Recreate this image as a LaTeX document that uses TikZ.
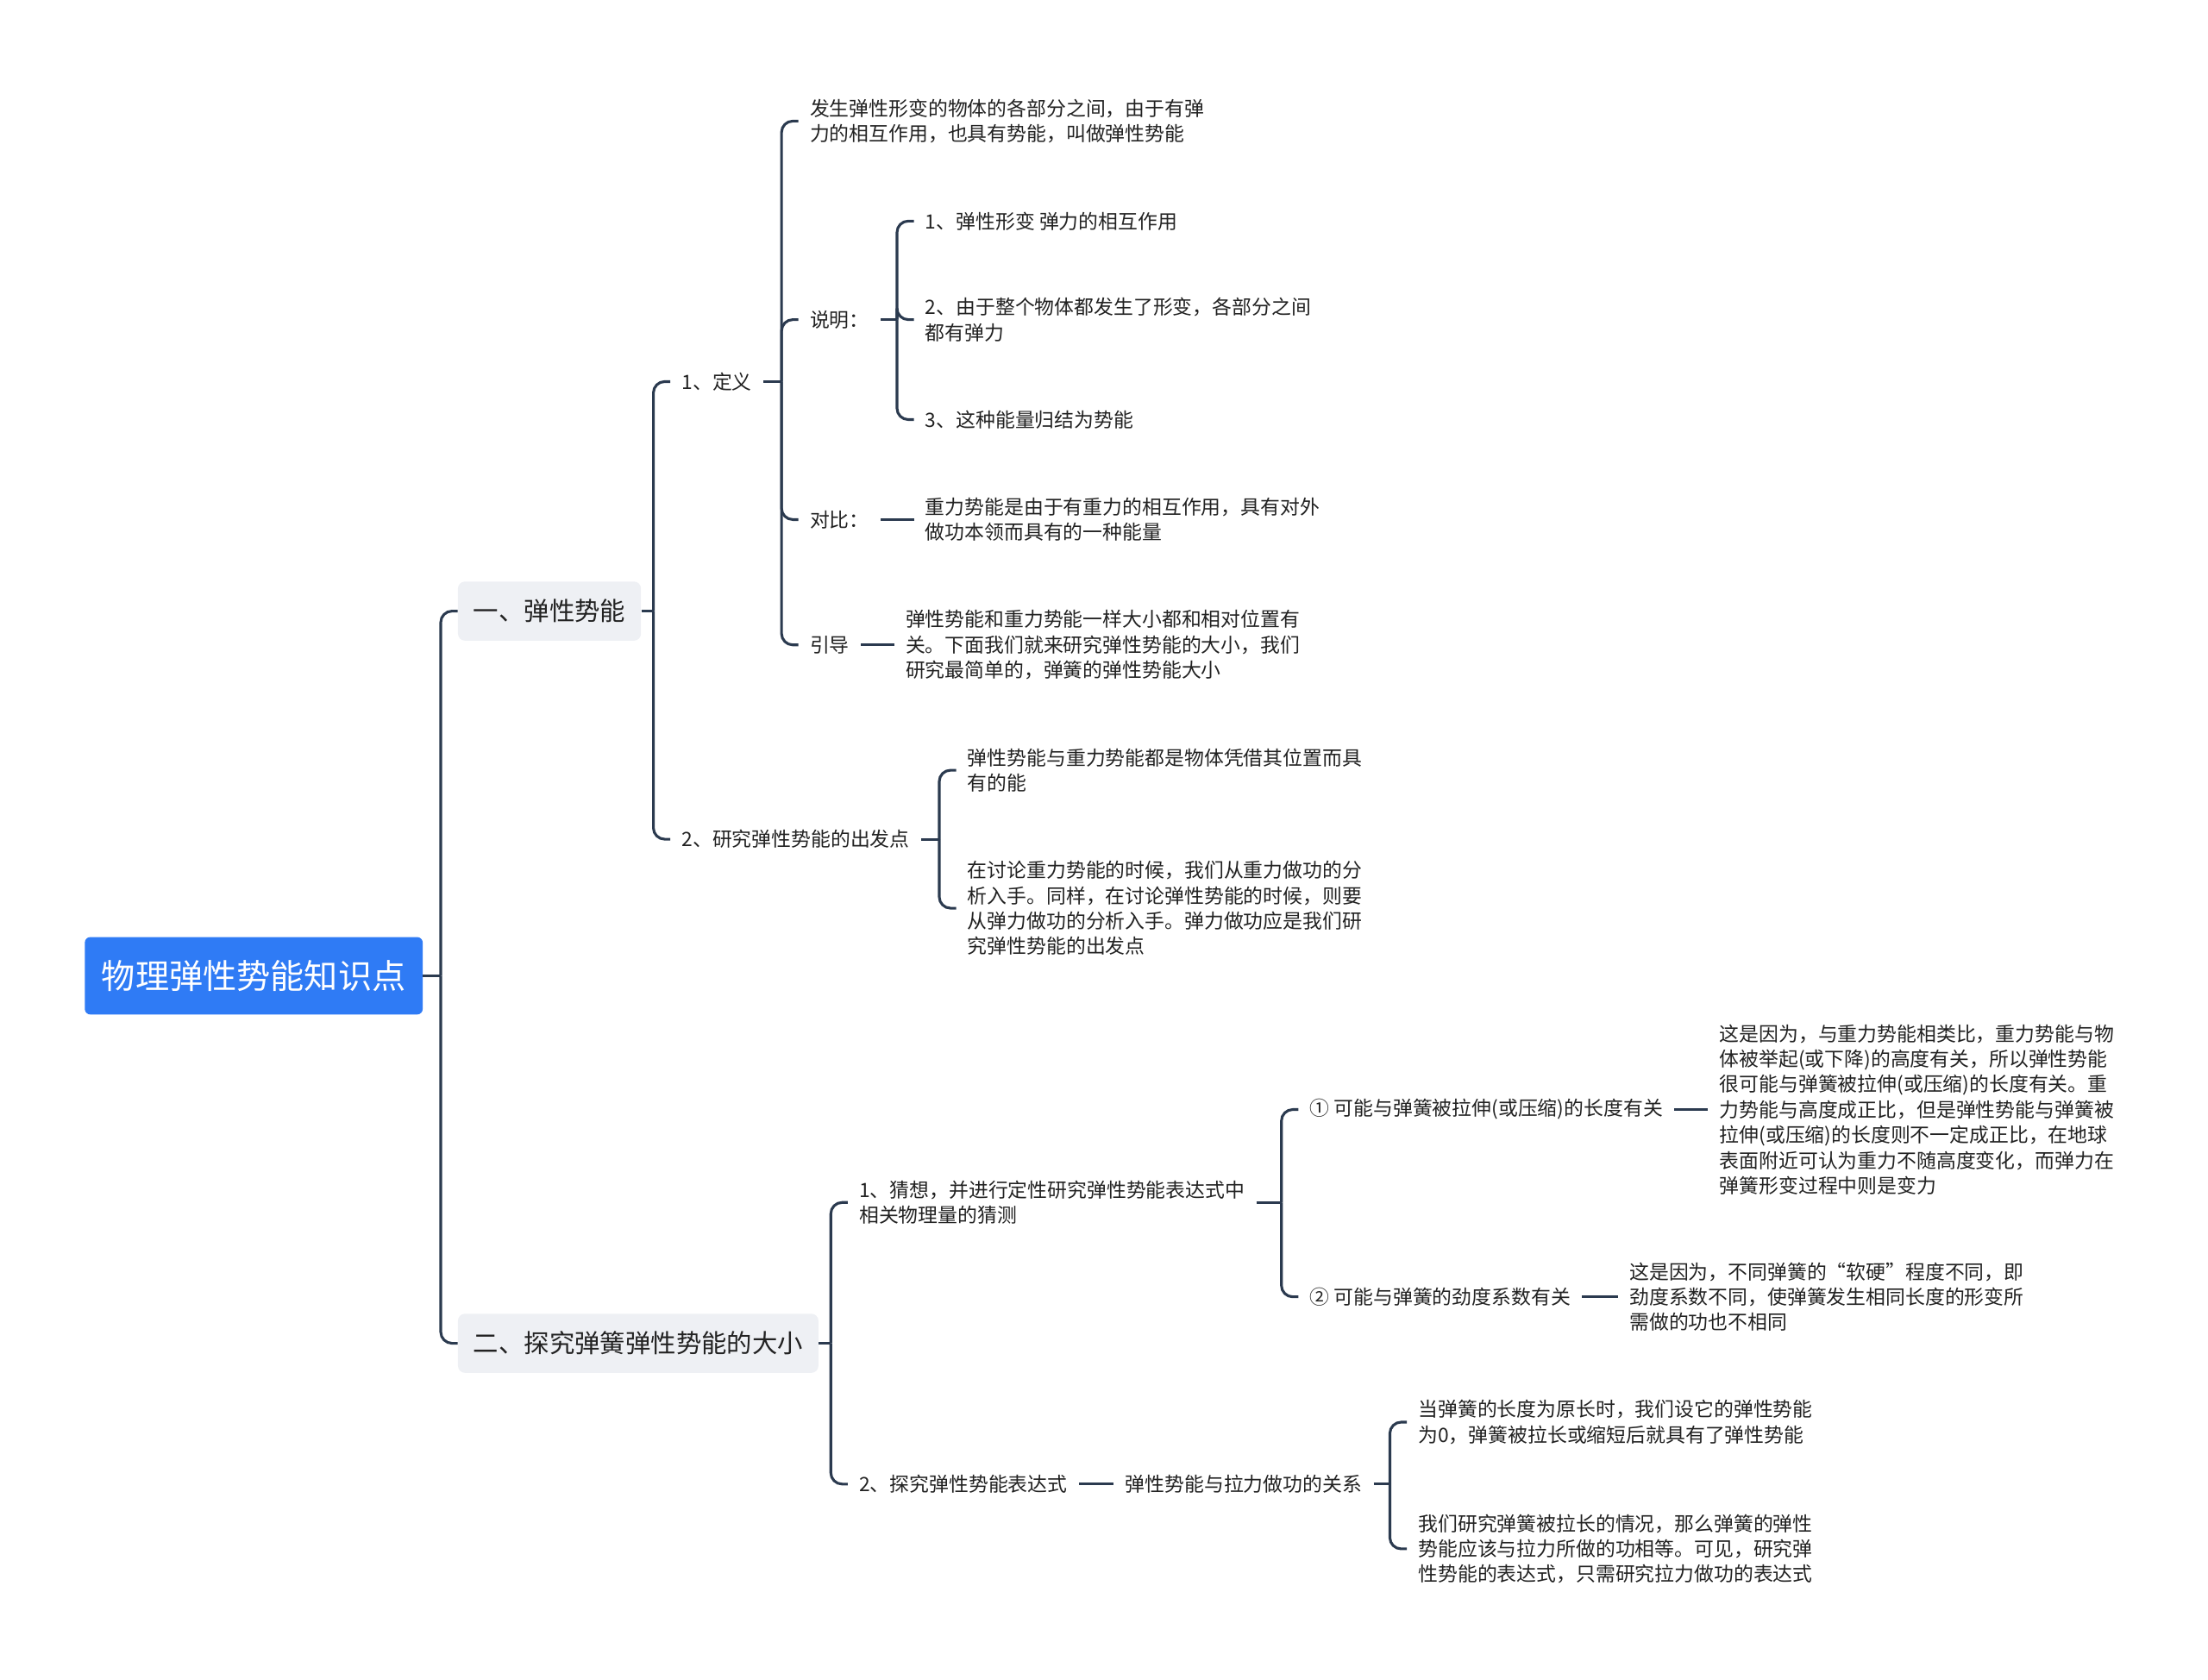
\documentclass[tikz,border=0pt]{standalone}
\usepackage{fontspec}
\setmainfont{Noto Sans CJK SC}
\definecolor{RootBlue}{HTML}{2F7BF5}
\definecolor{TopicGray}{HTML}{EEF0F4}
\definecolor{LinkNavy}{HTML}{2B3A4F}
\definecolor{TextDark}{HTML}{222222}
\usetikzlibrary{calc}
\tikzset{
  rootbox/.style={fill=RootBlue, rounded corners=4pt, text=white, anchor=west, minimum width=240pt, minimum height=55pt, inner xsep=12pt, font=\fontsize{24}{28}\selectfont},
  topicbox/.style={fill=TopicGray, rounded corners=5pt, text=TextDark, anchor=west, minimum height=42pt, inner xsep=11pt, font=\fontsize{18}{22}\selectfont},
  leaf/.style={anchor=west, align=left, inner xsep=8pt, inner ysep=2pt, text=TextDark, font=\fontsize{14}{18}\selectfont},
  link/.style={draw=LinkNavy, line width=1.9pt},
  branch/.style={link, rounded corners=8pt}
}

\begin{document}
\begin{tikzpicture}[x=1pt, y=-1pt]
\useasboundingbox (0,0) rectangle (1568,1193);

% root and main topics
\node[rootbox] (root) at (60,693) {物理弹性势能知识点};
\node[topicbox] (elastic) at (325,434) {一、弹性势能};
\node[topicbox] (spring) at (325,954) {二、探究弹簧弹性势能的大小};

% first topic
\node[leaf] (def) at (476,271) {1、定义};
\node[leaf] (start) at (476,596) {2、研究弹性势能的出发点};
\node[leaf] (defTxt) at (567,86) {发生弹性形变的物体的各部分之间，由于有弹\\力的相互作用，也具有势能，叫做弹性势能};
\node[leaf] (note) at (567,227) {说明：};
\node[leaf] (cmp) at (567,369) {对比：};
\node[leaf] (guide) at (567,458) {引导};
\node[leaf] (noteA) at (649,157) {1、弹性形变 弹力的相互作用};
\node[leaf] (noteB) at (649,227) {2、由于整个物体都发生了形变，各部分之间\\都有弹力};
\node[leaf] (noteC) at (649,298) {3、这种能量归结为势能};
\node[leaf] (cmpTxt) at (649,369) {重力势能是由于有重力的相互作用，具有对外\\做功本领而具有的一种能量};
\node[leaf] (guideTxt) at (635,458) {弹性势能和重力势能一样大小都和相对位置有\\关。下面我们就来研究弹性势能的大小，我们\\研究最简单的，弹簧的弹性势能大小};
\node[leaf] (startA) at (679,547) {弹性势能与重力势能都是物体凭借其位置而具\\有的能};
\node[leaf] (startB) at (679,645) {在讨论重力势能的时候，我们从重力做功的分\\析入手。同样，在讨论弹性势能的时候，则要\\从弹力做功的分析入手。弹力做功应是我们研\\究弹性势能的出发点};

% second topic
\node[leaf] (guess) at (602,854) {1、猜想，并进行定性研究弹性势能表达式中\\相关物理量的猜测};
\node[leaf] (expr) at (602,1054) {2、探究弹性势能表达式};
\node[leaf] (len) at (922,788) {① 可能与弹簧被拉伸(或压缩)的长度有关};
\node[leaf] (stiff) at (922,921) {② 可能与弹簧的劲度系数有关};
\node[leaf] (lenTxt) at (1213,788) {这是因为，与重力势能相类比，重力势能与物\\体被举起(或下降)的高度有关，所以弹性势能\\很可能与弹簧被拉伸(或压缩)的长度有关。重\\力势能与高度成正比，但是弹性势能与弹簧被\\拉伸(或压缩)的长度则不一定成正比，在地球\\表面附近可认为重力不随高度变化，而弹力在\\弹簧形变过程中则是变力};
\node[leaf] (stiffTxt) at (1149,921) {这是因为，不同弹簧的“软硬”程度不同，即\\劲度系数不同，使弹簧发生相同长度的形变所\\需做的功也不相同};
\node[leaf] (relation) at (791,1054) {弹性势能与拉力做功的关系};
\node[leaf] (relA) at (999,1010) {当弹簧的长度为原长时，我们设它的弹性势能\\为0，弹簧被拉长或缩短后就具有了弹性势能};
\node[leaf] (relB) at (999,1100) {我们研究弹簧被拉长的情况，那么弹簧的弹性\\势能应该与拉力所做的功相等。可见，研究弹\\性势能的表达式，只需研究拉力做功的表达式};

% junctions
\coordinate (jRoot) at (313,693);
\coordinate (jElastic) at (464,434);
\coordinate (jDef) at (555,271);
\coordinate (jNote) at (637,227);
\coordinate (jStart) at (667,596);
\coordinate (jSpring) at (590,954);
\coordinate (jGuess) at (910,854);
\coordinate (jRel) at (987,1054);

% connectors
\draw[link] (root.east) -- (jRoot);
\foreach \c in {elastic, spring} \draw[branch] (jRoot) |- (\c.west);
\draw[link] (elastic.east) -- (jElastic);
\foreach \c in {def, start} \draw[branch] (jElastic) |- (\c.west);
\draw[link] (def.east) -- (jDef);
\foreach \c in {defTxt, note, cmp, guide} \draw[branch] (jDef) |- (\c.west);
\draw[link] (note.east) -- (jNote);
\foreach \c in {noteA, noteB, noteC} \draw[branch] (jNote) |- (\c.west);
\draw[link] (cmp.east) -- (cmpTxt.west);
\draw[link] (guide.east) -- (guideTxt.west);
\draw[link] (start.east) -- (jStart);
\foreach \c in {startA, startB} \draw[branch] (jStart) |- (\c.west);

\draw[link] (spring.east) -- (jSpring);
\foreach \c in {guess, expr} \draw[branch] (jSpring) |- (\c.west);
\draw[link] (guess.east) -- (jGuess);
\foreach \c in {len, stiff} \draw[branch] (jGuess) |- (\c.west);
\draw[link] (len.east) -- (lenTxt.west);
\draw[link] (stiff.east) -- (stiffTxt.west);
\draw[link] (expr.east) -- (relation.west);
\draw[link] (relation.east) -- (jRel);
\foreach \c in {relA, relB} \draw[branch] (jRel) |- (\c.west);
\end{tikzpicture}
\end{document}
